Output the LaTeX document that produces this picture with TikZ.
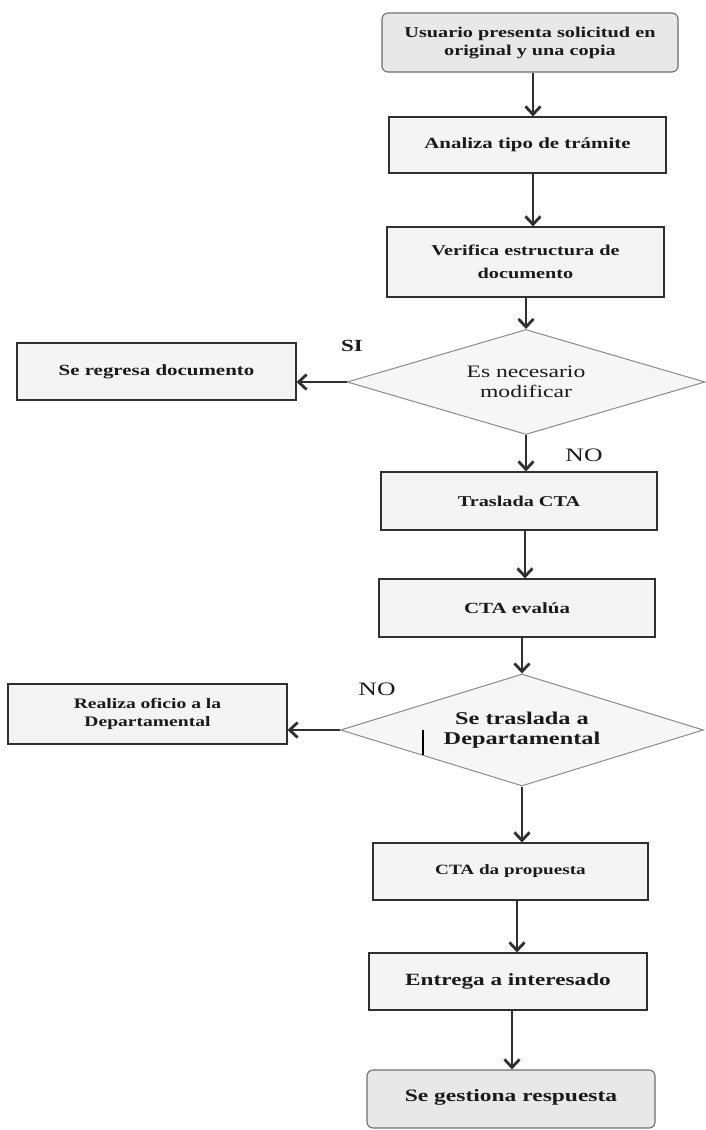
\documentclass[tikz,border=0pt]{standalone}
\usepackage{fontspec}
\setmainfont{Liberation Serif}[FakeStretch=1.35]
\usetikzlibrary{arrows.meta,shapes.geometric}
\definecolor{boxfill}{HTML}{F4F4F4}
\definecolor{rfill}{HTML}{E8E8E8}
\definecolor{dfill}{HTML}{F6F6F6}
\definecolor{edge}{HTML}{303030}
\definecolor{dedge}{HTML}{8A8A8A}
\definecolor{ink}{HTML}{1A1A1A}
\tikzset{
  pbox/.style={draw=edge, line width=1.1pt, fill=boxfill, inner sep=0pt, align=center, text=ink},
  rbox/.style={pbox, rounded corners=6pt, fill=rfill, draw=dedge!80!black},
  dbox/.style={diamond, draw=dedge, line width=1pt, fill=dfill, inner sep=0pt, align=center, text=ink, shape aspect=3.4},
  arr/.style={draw=edge, line width=2.8pt, -{Straight Barb[length=8pt,width=15pt]}},
  lbl/.style={text=ink, inner sep=0pt}
}
\newcommand{\fs}[2]{\fontsize{#1}{#2}\selectfont}
\begin{document}
\begin{tikzpicture}[x=1pt,y=-1pt]
\useasboundingbox (0,0) rectangle (706,1130);
% boxes
\node[rbox, minimum width=296pt, minimum height=59pt, font=\fs{15}{18}\bfseries] (b1) at (530,42.5)
  {Usuario presenta solicitud en\\ original y una copia};
\node[pbox, minimum width=277pt, minimum height=56pt, font=\fs{15.5}{18}\bfseries] (b2) at (527.5,145)
  {Analiza tipo de trámite};
\node[pbox, minimum width=277pt, minimum height=70pt, font=\fs{15}{23}\bfseries] (b3) at (525.5,262)
  {Verifica estructura de\\ documento};
\node[dbox, minimum width=358pt, minimum height=105pt, font=\fs{17.5}{20}] (d1) at (526,382)
  {Es necesario\\ modificar};
\node[pbox, minimum width=279pt, minimum height=57pt, font=\fs{15.5}{17}\bfseries] (sr) at (156.5,371.5)
  {Se regresa documento};
\node[pbox, minimum width=276pt, minimum height=58pt, font=\fs{15}{18}\bfseries] (b4) at (519,501)
  {Traslada CTA};
\node[pbox, minimum width=276pt, minimum height=58pt, font=\fs{15.5}{18}\bfseries] (b5) at (517,608)
  {CTA evalúa};
\node[dbox, minimum width=363pt, minimum height=112pt, font=\fs{18}{20}\bfseries] (d2) at (522,730)
  {Se traslada a\\ Departamental};
\node[pbox, minimum width=279pt, minimum height=60pt, font=\fs{14.5}{18}\bfseries] (rz) at (147.5,714)
  {Realiza oficio a la\\ Departamental};
\node[pbox, minimum width=275pt, minimum height=57pt, font=\fs{14.2}{17}\bfseries] (b6) at (510.5,871.5)
  {CTA da propuesta};
\node[pbox, minimum width=278pt, minimum height=57pt, font=\fs{17.2}{20}\bfseries] (b7) at (508,981.5)
  {Entrega a interesado};
\node[rbox, minimum width=288pt, minimum height=58pt, font=\fs{17.4}{20}\bfseries] (b8) at (511,1099)
  {\raisebox{7pt}{Se gestiona respuesta}};
% labels
\node[lbl, font=\fs{17}{20}\bfseries] (si) at (352,346) {SI};
\node[lbl, font=\fs{19}{22}] (no1) at (584,455) {NO};
\node[lbl, font=\fs{19}{22}] (no2) at (377,689) {NO};
% arrow x positions
\coordinate (x1) at (533,0);
\coordinate (x5) at (525,0);
\coordinate (x8) at (517,0);
\coordinate (x9) at (512,0);
% connectors
\draw[arr] (b1.south -| x1) -- (b2.north -| x1);
\draw[arr] (b2.south -| x1) -- (b3.north -| x1);
\draw[arr] (b3.south -| d1.north) -- (d1.north);
\draw[arr] (d1.west) -- (d1.west -| sr.east);
\draw[arr] (d1.south) -- (b4.north -| d1.south);
\draw[arr] (b4.south -| x5) -- (b5.north -| x5);
\draw[arr] (b5.south -| d2.north) -- (d2.north);
\draw[arr] (d2.west) -- (d2.west -| rz.east);
\draw[arr] (d2.south) -- (b6.north -| d2.south);
\draw[arr] (b6.south -| x8) -- (b7.north -| x8);
\draw[arr] (b7.south -| x9) -- (b8.north -| x9);
% stray mark inside second diamond
\coordinate (m1) at (423,730);
\coordinate (m2) at (423,755);
\draw[line width=2.6pt, black] (m1) -- (m2);
\end{tikzpicture}
\end{document}
